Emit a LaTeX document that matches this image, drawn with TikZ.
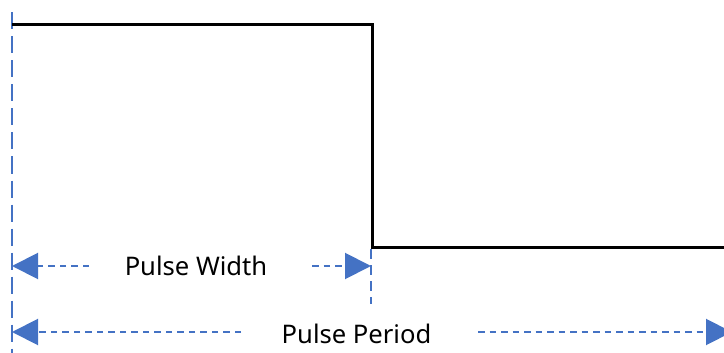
\documentclass[tikz,border=0pt]{standalone}
\usepackage{fontspec}
\setmainfont{Noto Sans}
\usetikzlibrary{arrows.meta}
\definecolor{dimblue}{HTML}{4472C4}
\tikzset{
  signal/.style={line width=3pt, black},
  guide/.style={line width=2pt, dimblue, dash pattern=on 17pt off 7pt},
  dimline/.style={line width=2pt, dimblue, dash pattern=on 6.5pt off 5pt,
    -{Triangle[length=26pt,width=26pt]}},
  lbl/.style={font=\fontsize{25.6}{30}\selectfont, inner sep=0pt, anchor=base}
}
\begin{document}
\begin{tikzpicture}[x=1pt,y=-1pt]
\useasboundingbox (0,0) rectangle (724,353);
% guides
\coordinate (g0) at (12,12.5);
\coordinate (g1) at (12,353);
\draw[guide] (g0) -- (g1);
\coordinate (v0) at (371,249);
\coordinate (v1) at (371,304);
\draw[guide, dash pattern=on 10pt off 6pt] (v0) -- (v1);
% pulse
\coordinate (s0) at (12,25);
\coordinate (s1) at (372,25);
\coordinate (s2) at (372,247);
\coordinate (s3) at (726,247);
\draw[signal] (s0) -- (s1) -- (s2) -- (s3);
% pulse width
\node[lbl] (pw) at (196,275) {Pulse Width};
\coordinate (pwL0) at (89,266);
\coordinate (pwL1) at (12,266);
\coordinate (pwR0) at (312,266);
\coordinate (pwR1) at (371,266);
\draw[dimline] (pwL0) -- (pwL1);
\draw[dimline] (pwR0) -- (pwR1);
% pulse period
\node[lbl] (pp) at (356.5,343) {Pulse Period};
\coordinate (ppL0) at (241,332);
\coordinate (ppL1) at (12,332);
\coordinate (ppR0) at (478,332);
\coordinate (ppR1) at (732,332);
\draw[dimline] (ppL0) -- (ppL1);
\draw[dimline] (ppR0) -- (ppR1);
\end{tikzpicture}
\end{document}
